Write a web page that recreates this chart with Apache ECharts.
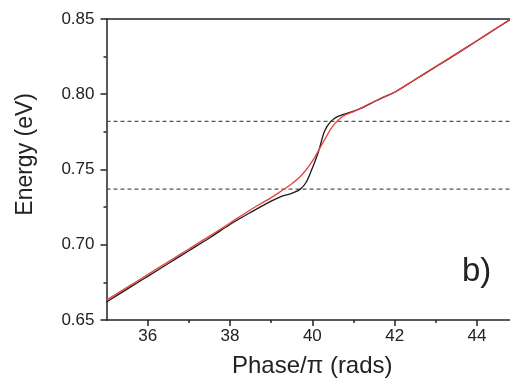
<!DOCTYPE html>
<html>
<head>
<meta charset="utf-8">
<title>Energy vs Phase</title>
<script src="https://cdn.jsdelivr.net/npm/echarts@6/dist/echarts.min.js"></script>
<style>
  html, body { margin: 0; padding: 0; background: #fff; }
  #chart { width: 510px; height: 389px; }
</style>
</head>
<body>
<div id="chart"></div>
<script>
// Simulated energy (black) vs phase/pi
const phaseSim = [35.0, 35.5, 35.75, 36.0, 36.5, 37.0, 37.5, 38.0, 38.5, 39.0, 39.25, 39.5, 39.7, 39.85, 40.0, 40.15, 40.3, 40.45, 40.6, 40.8, 41.0, 41.25, 41.5, 41.75, 42.0, 42.5, 43.0, 43.5, 44.0, 44.5, 44.8];
const energySim = [0.6620, 0.6705, 0.6748, 0.6790, 0.6875, 0.6960, 0.7045, 0.7135, 0.7215, 0.7290, 0.7322, 0.7342, 0.7368, 0.7415, 0.7510, 0.7620, 0.7758, 0.7820, 0.7850, 0.7870, 0.7888, 0.7915, 0.7950, 0.7983, 0.8013, 0.8098, 0.8183, 0.8268, 0.8355, 0.8443, 0.8496];

// Fitted energy (red) vs phase/pi
const phaseFit = [35.0, 35.5, 36.0, 36.5, 37.0, 37.5, 38.0, 38.5, 39.0, 39.25, 39.5, 39.75, 40.0, 40.25, 40.5, 40.75, 41.0, 41.25, 41.5, 41.75, 42.0, 42.5, 43.0, 43.5, 44.0, 44.5, 44.8];
const energyFit = [0.6632, 0.6717, 0.6802, 0.6887, 0.6972, 0.7057, 0.7145, 0.7233, 0.7313, 0.7358, 0.7405, 0.7465, 0.7555, 0.7675, 0.7790, 0.7855, 0.7885, 0.7918, 0.7952, 0.7985, 0.8015, 0.8100, 0.8185, 0.8270, 0.8357, 0.8445, 0.8497];

// Reference energy levels (dashed), spanning the full phase range
const levels = [0.782, 0.737];
const phaseRange = [35, 44.8];

// Axis ticks
const xMajorTicks = [36, 38, 40, 42, 44];
const xMinorTicks = [37, 39, 41, 43];

const FONT = '"Liberation Sans", Arial, sans-serif';
const INK = '#222';

const zip = (xs, ys) => xs.map((x, i) => [x, ys[i]]);

const chart = echarts.init(document.getElementById('chart'), null, { renderer: 'canvas' });

const levelSeries = levels.map((v, i) => ({
  name: 'level' + i, type: 'line', xAxisIndex: 0,
  data: phaseRange.map(x => [x, v]),
  showSymbol: false, silent: true, z: 1,
  lineStyle: { color: '#555', type: [4, 3], width: 1.2 }
}));

chart.setOption({
  animation: false,
  backgroundColor: '#fff',
  grid: { left: 106.5, right: 0, top: 19, bottom: 69, containLabel: false },
  xAxis: [
    {
      type: 'value', min: 35, max: 44.8, interval: 1, position: 'bottom',
      axisLine: { show: true, lineStyle: { color: INK, width: 1.5 } },
      axisTick: { show: true, customValues: xMajorTicks, length: 6, inside: false, lineStyle: { color: INK, width: 1.5 } },
      axisLabel: { show: true, customValues: xMajorTicks, margin: 8, color: INK, fontSize: 17, fontFamily: FONT },
      splitLine: { show: false },
      name: 'Phase/\u03c0 (rads)', nameLocation: 'middle', nameGap: 34,
      nameTextStyle: { color: INK, fontSize: 24, fontFamily: FONT, padding: [0, 0, 0, 8] }
    },
    {
      type: 'value', min: 35, max: 44.8, interval: 1, position: 'bottom',
      axisLine: { show: false },
      axisTick: { show: true, customValues: xMinorTicks, length: 3, lineStyle: { color: INK, width: 1.5 } },
      axisLabel: { show: false },
      splitLine: { show: false }
    },
    {
      type: 'value', min: 35, max: 44.8, position: 'top',
      axisLine: { show: true, lineStyle: { color: INK, width: 1.5 } },
      axisTick: { show: false },
      axisLabel: { show: false },
      splitLine: { show: false }
    }
  ],
  yAxis: {
    type: 'value', min: 0.65, max: 0.85, interval: 0.05,
    axisLine: { show: true, lineStyle: { color: INK, width: 1.5 } },
    axisTick: { show: true, length: 6, lineStyle: { color: INK, width: 1.5 } },
    minorTick: { show: true, splitNumber: 2, length: 3, lineStyle: { color: INK, width: 1.5 } },
    axisLabel: { margin: 12, color: INK, fontSize: 17, fontFamily: FONT, formatter: v => v.toFixed(2) },
    splitLine: { show: false },
    minorSplitLine: { show: false }
  },
  graphic: [
    {
      type: 'text', left: 14, top: 93, rotation: Math.PI / 2, silent: true,
      style: { text: 'Energy (eV)', fill: INK, fontSize: 23, fontFamily: FONT }
    },
    {
      type: 'text', left: 462, top: 255, silent: true,
      style: { text: 'b)', fill: INK, fontSize: 33, fontFamily: FONT }
    }
  ],
  series: levelSeries.concat([
    {
      name: 'simulation', type: 'line', xAxisIndex: 0, data: zip(phaseSim, energySim),
      showSymbol: false, smooth: 0.35, clip: true, z: 2,
      lineStyle: { color: '#1a1a1a', width: 1.3 }
    },
    {
      name: 'fit', type: 'line', xAxisIndex: 0, data: zip(phaseFit, energyFit),
      showSymbol: false, smooth: 0.35, clip: true, z: 3,
      lineStyle: { color: '#e8403f', width: 1.3 }
    }
  ])
});
</script>
</body>
</html>
